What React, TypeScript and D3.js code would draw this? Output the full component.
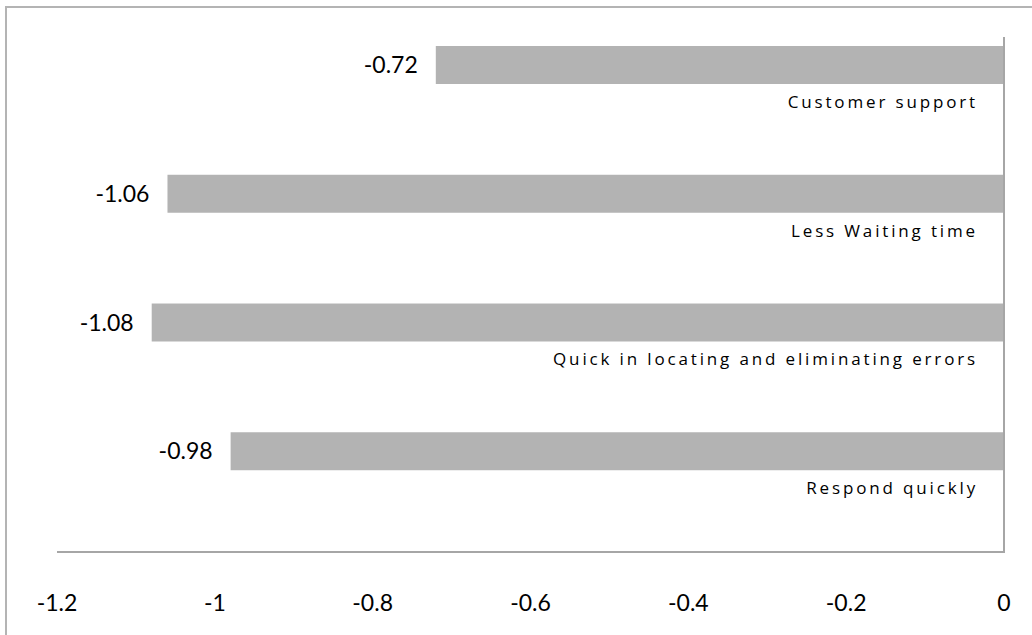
import React from "react";
import * as d3 from "d3";

const categories = [
  "Customer support",
  "Less Waiting time",
  "Quick in locating and eliminating errors",
  "Respond quickly",
];
const values = [-0.72, -1.06, -1.08, -0.98];
const tickValues = [-1.2, -1, -0.8, -0.6, -0.4, -0.2, 0];

const W = 1032;
const H = 635;

const fmt = (v: number) => String(v);

export default function App() {
  const x = d3.scaleLinear().domain([-1.2, 0]).range([57, 1004]);
  const y = d3.scaleBand<string>().domain(categories).range([37, 552]);
  const bw = y.bandwidth();
  const numFont = "Lato, 'Open Sans', sans-serif";
  const catFont = "'Open Sans', 'DejaVu Sans', sans-serif";
  return (
    <svg
      width={W}
      height={H}
      style={{ position: "absolute", left: 0, top: 0, background: "#fff" }}
    >
      <rect x={6} y={7} width={W + 10} height={H + 10} fill="#fff" stroke="#b4b4b4" strokeWidth={2} />
      {categories.map((c, i) => {
        const v = values[i];
        const top = (y(c) as number) + bw * 0.07;
        const h = bw * 0.295;
        return (
          <g key={c}>
            <rect x={x(v)} y={top} width={x(0) - x(v)} height={h} fill="#b3b3b3" />
            <text
              x={x(v) - 18}
              y={top + h / 2 + 8}
              textAnchor="end"
              fontFamily={numFont}
              fontSize={23}
              fill="#000"
            >
              {fmt(v)}
            </text>
            <text
              x={978}
              y={top + h + 24}
              textAnchor="end"
              fontFamily={catFont}
              fontSize={17}
              letterSpacing={2.85}
              fill="#000"
            >
              {c}
            </text>
          </g>
        );
      })}
      <line x1={x(-1.2)} x2={x(0) + 1} y1={552} y2={552} stroke="#a6a6a6" strokeWidth={2} />
      <line x1={x(0)} x2={x(0)} y1={37} y2={553} stroke="#a6a6a6" strokeWidth={2} />
      {tickValues.map((t) => (
        <text
          key={t}
          x={x(t)}
          y={611}
          textAnchor="middle"
          fontFamily={numFont}
          fontSize={23}
          fill="#000"
        >
          {fmt(t)}
        </text>
      ))}
    </svg>
  );
}
